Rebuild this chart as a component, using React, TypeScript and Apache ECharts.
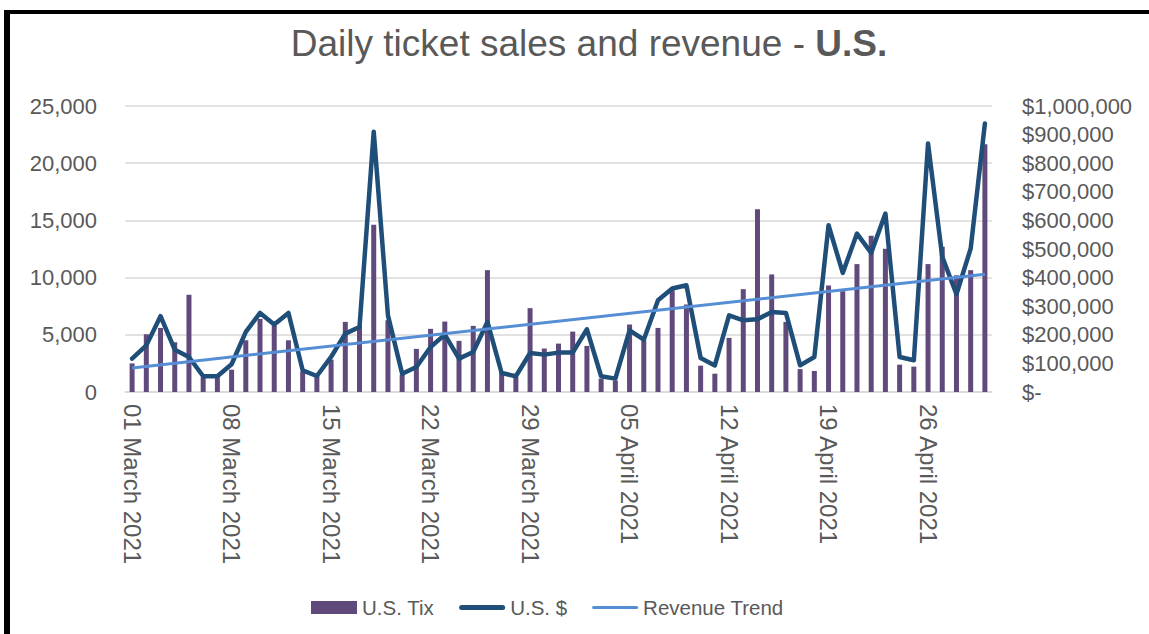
import React, { useEffect, useRef } from "react";
import * as echarts from "echarts";

const categories: string[] = [
  "01 March 2021", "02 March 2021", "03 March 2021", "04 March 2021", "05 March 2021", "06 March 2021", "07 March 2021",
  "08 March 2021", "09 March 2021", "10 March 2021", "11 March 2021", "12 March 2021", "13 March 2021", "14 March 2021",
  "15 March 2021", "16 March 2021", "17 March 2021", "18 March 2021", "19 March 2021", "20 March 2021", "21 March 2021",
  "22 March 2021", "23 March 2021", "24 March 2021", "25 March 2021", "26 March 2021", "27 March 2021", "28 March 2021",
  "29 March 2021", "30 March 2021", "31 March 2021", "01 April 2021", "02 April 2021", "03 April 2021", "04 April 2021",
  "05 April 2021", "06 April 2021", "07 April 2021", "08 April 2021", "09 April 2021", "10 April 2021", "11 April 2021",
  "12 April 2021", "13 April 2021", "14 April 2021", "15 April 2021", "16 April 2021", "17 April 2021", "18 April 2021",
  "19 April 2021", "20 April 2021", "21 April 2021", "22 April 2021", "23 April 2021", "24 April 2021", "25 April 2021",
  "26 April 2021", "27 April 2021", "28 April 2021", "29 April 2021", "30 April 2021",
];

const usTix: number[] = [
  2500, 5050, 5600, 4350, 8500, 1300, 1300, 1950, 4520, 6390, 5800, 4520, 1800, 1500,
  2830, 6130, 5800, 14620, 6280, 1500, 3770, 5520, 6160, 4470, 5780, 10650, 1800, 1300,
  7330, 3800, 4230, 5280, 4030, 1170, 1000, 5900, 4500, 5600, 8900, 7650, 2300, 1600,
  4730, 8990, 15970, 10275, 6130, 2000, 1840, 9310, 8815, 11180, 13660, 12520, 2390, 2220,
  11180, 12700, 10200, 10650, 21660,
];

const usRevenue: number[] = [
  116700, 163000, 265000, 148000, 122500, 55000, 55000, 97000, 210000, 276500, 235700, 276500, 75800, 56000,
  122500, 204000, 227500, 910000, 268000, 64000, 87500, 157500, 200700, 116700, 140000, 245000, 66500, 55000,
  136500, 130700, 137700, 137700, 219300, 55000, 46700, 215800, 183000, 320800, 361700, 373300, 119000, 93000,
  268000, 250800, 254300, 280000, 276500, 93300, 122500, 583000, 416500, 554000, 486500, 624000, 122500, 110800,
  869000, 472500, 341800, 501700, 939000,
];

const trendStart = 84000;
const trendEnd = 411800;

const leftTicks = { min: 0, max: 25000, interval: 5000 };
const rightTicks = { min: 0, max: 1000000, interval: 100000 };

const FONT = "'Liberation Sans', Arial, sans-serif";
const GREY = "#595959";

export default function App() {
  const ref = useRef<HTMLDivElement>(null);

  useEffect(() => {
    if (!ref.current) return;
    const chart = echarts.init(ref.current, undefined, { renderer: "svg" });
    chart.setOption({
      animation: false,
      backgroundColor: "#ffffff",
      textStyle: { fontFamily: FONT },
      title: {
        text: "{a|Daily ticket sales and revenue - }{b|U.S.}",
        left: 584,
        top: 20,
        textAlign: "center",
        textStyle: {
          fontWeight: "normal",
          rich: {
            a: { fontSize: 37, color: GREY, fontFamily: FONT, fontWeight: "normal" },
            b: { fontSize: 37, color: GREY, fontFamily: FONT, fontWeight: "bold" },
          },
        },
      },
      graphic: [
        { type: "rect", left: 4, top: 10, shape: { width: 6, height: 624 }, style: { fill: "#000" }, z: 100 },
        { type: "rect", left: 4, top: 10, shape: { width: 1145, height: 4 }, style: { fill: "#000" }, z: 100 },
      ],
      legend: {
        left: 306,
        top: 592,
        itemGap: 25,
        itemWidth: 46,
        itemHeight: 13,
        textStyle: { fontSize: 20.5, color: GREY, fontFamily: FONT },
        data: [
          { name: "U.S. Tix", icon: "rect" },
          { name: "U.S. $", icon: "path://M2.5,0 L43.5,0 A2.5,2.5 0 0 1 43.5,5 L2.5,5 A2.5,2.5 0 0 1 2.5,0 Z" },
          { name: "Revenue Trend", icon: "path://M1.5,0 L44.5,0 A1.5,1.5 0 0 1 44.5,3 L1.5,3 A1.5,1.5 0 0 1 1.5,0 Z" },
        ],
      },
      grid: { left: 125, right: 157, top: 106, bottom: 242, containLabel: false },
      xAxis: {
        type: "category",
        data: categories,
        boundaryGap: true,
        axisLine: { show: true, lineStyle: { color: "#D9D9D9", width: 1.5 } },
        axisTick: { show: false },
        axisLabel: {
          interval: 6,
          rotate: -90,
          margin: 12,
          fontSize: 24,
          color: GREY,
          fontFamily: FONT,
        },
      },
      yAxis: [
        {
          type: "value",
          min: leftTicks.min,
          max: leftTicks.max,
          interval: leftTicks.interval,
          axisLine: { show: false },
          axisTick: { show: false },
          splitLine: { lineStyle: { color: "#D9D9D9", width: 1.5 } },
          axisLabel: {
            margin: 28,
            fontSize: 22,
            color: GREY,
            fontFamily: FONT,
            formatter: (v: number) => v.toLocaleString("en-US"),
          },
        },
        {
          type: "value",
          min: rightTicks.min,
          max: rightTicks.max,
          interval: rightTicks.interval,
          position: "right",
          axisLine: { show: false },
          axisTick: { show: false },
          splitLine: { show: false },
          axisLabel: {
            margin: 30,
            fontSize: 22,
            color: GREY,
            fontFamily: FONT,
            formatter: (v: number) => (v === 0 ? "$-" : "$" + v.toLocaleString("en-US")),
          },
        },
      ],
      series: [
        {
          name: "U.S. Tix",
          type: "bar",
          yAxisIndex: 0,
          data: usTix,
          barWidth: 5,
          itemStyle: { color: "#604A7B" },
        },
        {
          name: "U.S. $",
          type: "line",
          yAxisIndex: 1,
          data: usRevenue,
          symbol: "none",
          lineStyle: { color: "#1F4E79", width: 4.5, cap: "round", join: "round" },
          itemStyle: { color: "#1F4E79" },
        },
        {
          name: "Revenue Trend",
          type: "line",
          yAxisIndex: 1,
          data: [
            [categories[0], trendStart],
            [categories[categories.length - 1], trendEnd],
          ],
          symbol: "none",
          lineStyle: { color: "#558ED5", width: 3 },
          itemStyle: { color: "#558ED5" },
        },
      ],
    });
    return () => chart.dispose();
  }, []);

  return (
    <div
      ref={ref}
      style={{ position: "fixed", left: 0, top: 0, width: 1149, height: 634 }}
    />
  );
}
